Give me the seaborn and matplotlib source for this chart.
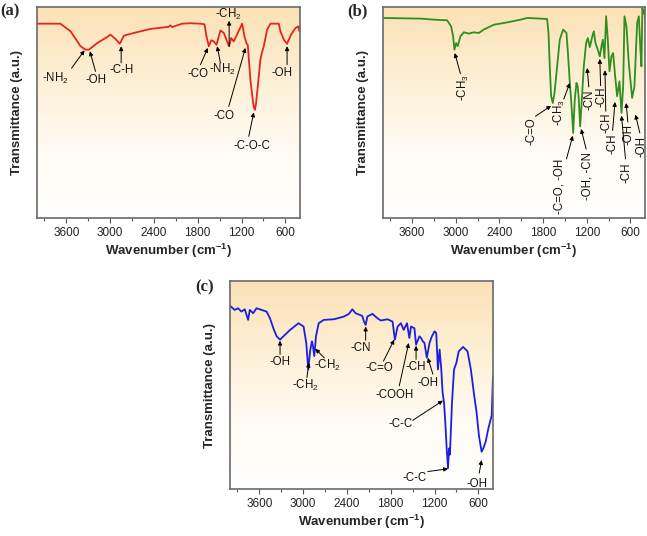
import numpy as np
import matplotlib
matplotlib.use('Agg')
import matplotlib.pyplot as plt
from matplotlib.colors import LinearSegmentedColormap
from matplotlib.ticker import MultipleLocator
import seaborn as sns

sns.set_theme(style='ticks')
plt.rcParams['font.family'] = ['Liberation Sans', 'DejaVu Sans']
plt.rcParams['mathtext.fontset'] = 'custom'
plt.rcParams['mathtext.rm'] = 'Liberation Sans'
plt.rcParams['mathtext.it'] = 'Liberation Sans:italic'
plt.rcParams['mathtext.bf'] = 'Liberation Sans:bold'

# spectrum (a), red
wn_a = [3995, 3680, 3541, 3404, 3336, 3290, 3176, 3039, 2994, 2925, 2866, 2811, 2674,
        2446, 2200, 2173, 2150, 2013, 1900, 1762, 1708, 1680, 1648, 1616, 1580, 1543,
        1489, 1443, 1398, 1370, 1343, 1307, 1252, 1192, 1160, 1133, 1115, 1079, 1042,
        1030, 1019, 1005, 987, 942, 920, 896, 850, 805, 691, 668, 622, 577, 522, 463,
        426, 408, 395]
tr_a = [92.1, 92.1, 88.5, 81.4, 79.8, 79.8, 82.9, 85.8, 86.9, 84.8, 82.6, 86.4, 87.7,
        89.6, 90.6, 91.3, 90.5, 92.1, 92.3, 92.1, 91.8, 86.1, 81.4, 84.2, 83.7, 82.1,
        88.9, 87.7, 83.7, 81.4, 85.3, 83.7, 87.7, 92.1, 86.1, 82.9, 82.0, 65.6, 54.5,
        52.5, 51.3, 53.5, 59.2, 75.0, 78.5, 81.4, 89.3, 92.1, 92.1, 88.5, 84.5, 82.6,
        86.9, 90.0, 90.8, 88.5, 90.8]

# spectrum (b), green
wn_b = [3995, 3485, 3302, 3119, 3064, 3037, 3018, 2995, 2972, 2936, 2890, 2821, 2753,
        2684, 2615, 2478, 2294, 2111, 2020, 1900, 1745, 1726, 1708, 1690, 1667, 1644,
        1607, 1571, 1525, 1479, 1456, 1433, 1415, 1387, 1365, 1342, 1324, 1310, 1291,
        1268, 1241, 1209, 1186, 1158, 1126, 1103, 1081, 1049, 1021, 998, 980, 957, 934,
        911, 888, 861, 838, 810, 783, 751, 723, 700, 682, 655, 623, 577, 545, 508, 485,
        463, 449, 436, 417, 404, 395]
tr_b = [94.8, 94.5, 94.0, 93.7, 90.8, 86.1, 79.8, 82.9, 81.5, 86.1, 88.0, 87.4, 88.0,
        87.7, 89.3, 91.6, 92.7, 94.0, 94.8, 94.6, 94.3, 87.7, 71.9, 57.7, 54.5, 59.2,
        71.9, 84.5, 89.3, 87.7, 76.6, 64.0, 56.1, 40.3, 56.1, 64.0, 62.4, 56.1, 43.4,
        56.1, 71.9, 82.9, 85.3, 81.0, 85.8, 88.5, 83.0, 79.8, 76.6, 81.4, 84.5, 75.8,
        95.6, 84.5, 69.5, 76.6, 78.2, 67.1, 57.7, 64.8, 49.8, 62.4, 95.6, 90.8, 73.5,
        56.9, 62.4, 92.4, 95.6, 79.8, 71.9, 99.5, 96.8, 98.4, 94.8]

# spectrum (c), blue
wn_c = [4000, 3936, 3890, 3844, 3798, 3752, 3729, 3683, 3637, 3568, 3499, 3453, 3407,
        3361, 3315, 3269, 3177, 3062, 2993, 2956, 2929, 2901, 2878, 2864, 2846, 2823,
        2786, 2717, 2579, 2441, 2372, 2326, 2280, 2189, 2166, 2143, 2120, 2051, 1982,
        1936, 1844, 1775, 1743, 1706, 1660, 1623, 1577, 1545, 1522, 1476, 1453, 1407,
        1384, 1361, 1338, 1306, 1269, 1237, 1200, 1177, 1154, 1131, 1108, 1090, 1071,
        1053, 1034, 1016, 1002, 990, 961, 933, 901, 869, 809, 749, 703, 657, 625, 593,
        556, 533, 501, 464, 441, 418, 400]
tr_c = [88.1, 86.1, 86.9, 85.3, 86.4, 81.3, 86.1, 84.5, 86.9, 86.1, 85.3, 82.1, 77.3,
        73.4, 71.8, 73.4, 76.5, 79.7, 78.1, 70.2, 57.5, 67.0, 71.0, 68.6, 63.9, 73.4,
        79.7, 81.3, 81.6, 82.9, 84.2, 86.4, 84.5, 83.2, 80.5, 78.9, 82.9, 84.2, 82.1,
        81.0, 81.6, 80.5, 71.8, 78.1, 79.7, 76.5, 79.7, 72.6, 78.1, 77.3, 69.4, 73.4,
        72.6, 71.0, 70.2, 63.1, 70.2, 73.4, 75.8, 75.0, 57.5, 67.0, 57.5, 46.4, 41.7,
        32.2, 19.5, 10.0, 19.5, 16.5, 41.7, 57.5, 60.7, 66.2, 68.3, 66.2, 57.5, 44.8,
        36.9, 25.8, 17.9, 19.5, 22.7, 29.0, 32.2, 35.3, 54.4]

# peak labels: text, (text x, y), rotation, arrow tail, arrow tip
labels_a = [
    ('-NH$_2$', (3746, 66.0), 0, (3527, 71.0), (3349, 79.5)),
    ('-OH', (3199, 65.6), 0, (3199, 69.5), (3276, 79.0)),
    ('-C-H', (2848, 70.3), 0, (2848, 73.5), (2848, 81.4)),
    ('-CO', (1799, 68.4), 0, (1762, 72.7), (1662, 80.6)),
    ('-NH$_2$', (1466, 70.3), 0, (1489, 73.5), (1534, 81.4)),
    ('-CH$_2$', (1375, 96.4), 0, (1370, 81.4), (1370, 93.5)),
    ('-CO', (1443, 48.2), 0, (1375, 52.9), (1147, 80.6)),
    ('-C-O-C', (1056, 34.0), 0, (1101, 38.7), (1033, 50.0)),
    ('-OH', (645, 68.7), 0, (577, 72.7), (577, 81.4)),
]
labels_b = [
    ('-CH$_3$', (2890, 61.6), 90, (2936, 68.4), (3014, 78.2)),
    ('-C=O', (1965, 41.1), 90, (1905, 48.2), (1690, 53.2)),
    ('-CH$_3$', (1571, 49.8), 90, (1516, 56.4), (1433, 64.0)),
    ('-C=O, -OH', (1571, 15.0), 90, (1479, 28.0), (1392, 39.0)),
    ('-OH, -CN', (1195, 19.7), 90, (1209, 32.7), (1278, 42.2)),
    ('-CN', (1158, 56.1), 90, (1172, 62.1), (1195, 71.1)),
    ('-CH', (1003, 57.7), 90, (1010, 62.7), (1021, 75.4)),
    ('-CH', (935, 45.0), 90, (939, 50.6), (950, 70.0)),
    ('-CH', (840, 35.0), 90, (845, 41.5), (812, 55.0)),
    ('-CH', (655, 21.6), 90, (668, 28.0), (723, 48.5)),
    ('-OH', (622, 39.5), 90, (636, 45.5), (659, 54.5)),
    ('-OH', (453, 34.0), 90, (471, 40.3), (531, 49.0)),
]
labels_c = [
    ('-OH', (3315, 61.0), 0, (3315, 64.7), (3315, 71.3)),
    ('-CH$_2$', (2970, 49.6), 0, (2947, 53.6), (2920, 60.7)),
    ('-CH$_2$', (2671, 59.4), 0, (2708, 63.0), (2832, 67.4)),
    ('-CN', (2211, 67.8), 0, (2143, 71.5), (2143, 78.1)),
    ('-C=O', (1959, 58.3), 0, (1899, 61.5), (1752, 71.8)),
    ('-COOH', (1752, 45.2), 0, (1683, 49.6), (1554, 70.2)),
    ('-CH', (1453, 58.8), 0, (1453, 62.3), (1453, 68.9)),
    ('-OH', (1292, 51.2), 0, (1223, 55.2), (1292, 63.1)),
    ('-C-C', (1660, 31.4), 0, (1499, 33.0), (1085, 42.5)),
    ('-C-C', (1476, 5.2), 0, (1292, 8.4), (1016, 9.7)),
    ('-OH', (625, 2.4), 0, (589, 7.6), (556, 13.9)),
]

panels = [
    ('(a)', wn_a, tr_a, '#e3261f', labels_a, [37, 218, 263, 211], (0, 3)),
    ('(b)', wn_b, tr_b, '#2f8f1f', labels_b, [383, 218, 262, 211], (347, 3)),
    ('(c)', wn_c, tr_c, '#1c1fe0', labels_c, [230, 489, 263, 208], (195, 279)),
]

W, H = 647, 536
fig = plt.figure(figsize=(W / 100, H / 100), dpi=100)
bg = LinearSegmentedColormap.from_list('bg', ['white', '#fffbf3', '#fdefd4', '#fbe1b6'])
grad = np.linspace(0, 1, 256).reshape(-1, 1)

for tag, wn, tr, color, labels, box, tag_pos in panels:
    left, bottom, w, h = box
    ax = fig.add_axes([left / W, 1 - bottom / H, w / W, h / H])
    ax.imshow(grad, extent=[0, 1, 0, 1], transform=ax.transAxes, origin='lower',
              aspect='auto', cmap=bg, zorder=0)
    sns.lineplot(x=wn, y=tr, ax=ax, color=color, linewidth=1.3, estimator=None,
                 sort=False, zorder=2)
    ax.set_xlim(4000, 400)
    ax.set_ylim(0, 100)
    ax.xaxis.set_minor_locator(MultipleLocator(300))
    ax.set_xticks([3600, 3000, 2400, 1800, 1200, 600])
    ax.set_yticks([])
    ax.tick_params(axis='x', which='major', direction='out', length=3.5, width=0.8,
                   color='#555555', labelsize=8.5, pad=3, labelcolor='#222222')
    ax.tick_params(axis='x', which='minor', direction='out', length=2, width=0.8,
                   color='#555555')
    for sp in ax.spines.values():
        sp.set_color('#6a6a6a')
        sp.set_linewidth(1.2)
        sp.set_zorder(5)
    ax.set_xlabel(r'Wavenumber (cm$^{\mathbf{-1}}$)', fontsize=9.5, fontweight='bold',
                  labelpad=2)
    ax.set_ylabel('Transmittance (a.u.)', fontsize=9.5, fontweight='bold')
    ax.yaxis.set_label_coords(-0.055, 0.5)

    for text, (tx, ty), rot, tail, tip in labels:
        ax.text(tx, ty, text, fontsize=8.3, rotation=rot, ha='center', va='center',
                color='#111111', zorder=3)
        ax.annotate('', xy=tip, xytext=tail,
                    arrowprops=dict(arrowstyle='-|>', color='black', lw=0.7,
                                    mutation_scale=6, shrinkA=0, shrinkB=0),
                    zorder=3)

    fig.text(tag_pos[0] / W, 1 - tag_pos[1] / H, tag, family='Liberation Serif',
             fontweight='bold', fontsize=12, ha='left', va='top')

fig.savefig('out.png', dpi=100)
